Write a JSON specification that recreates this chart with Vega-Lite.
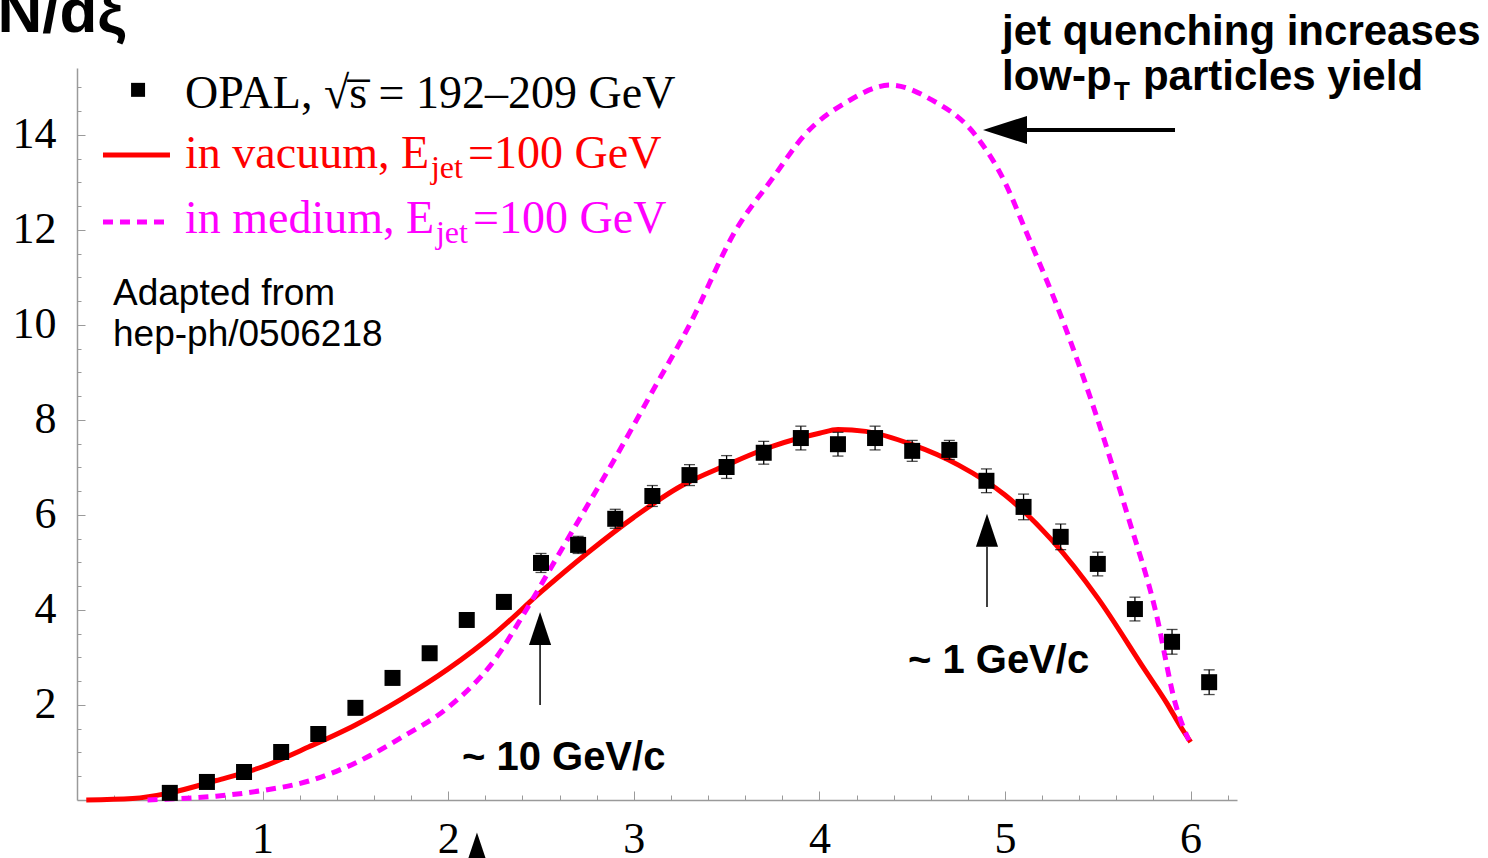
{
  "$schema": "https://vega.github.io/schema/vega-lite/v6.json",
  "width": 1160,
  "height": 732,
  "autosize": {"type": "none"},
  "padding": {"left": 77, "top": 68, "right": 251, "bottom": 58},
  "background": "white",
  "config": {"view": {"stroke": null}},
  "datasets": {
    "pts": [
      {"x": 0.5, "y": 0.15, "lo": 0.10, "hi": 0.20},
      {"x": 0.7, "y": 0.38, "lo": 0.32, "hi": 0.44},
      {"x": 0.9, "y": 0.59, "lo": 0.52, "hi": 0.66},
      {"x": 1.1, "y": 1.01, "lo": 0.93, "hi": 1.09},
      {"x": 1.3, "y": 1.39, "lo": 1.30, "hi": 1.48},
      {"x": 1.5, "y": 1.94, "lo": 1.84, "hi": 2.04},
      {"x": 1.7, "y": 2.57, "lo": 2.46, "hi": 2.68},
      {"x": 1.9, "y": 3.09, "lo": 2.97, "hi": 3.21},
      {"x": 2.1, "y": 3.79, "lo": 3.66, "hi": 3.92},
      {"x": 2.3, "y": 4.17, "lo": 4.02, "hi": 4.32},
      {"x": 2.5, "y": 4.99, "lo": 4.79, "hi": 5.19},
      {"x": 2.7, "y": 5.37, "lo": 5.19, "hi": 5.55},
      {"x": 2.9, "y": 5.92, "lo": 5.72, "hi": 6.12},
      {"x": 3.1, "y": 6.40, "lo": 6.18, "hi": 6.62},
      {"x": 3.3, "y": 6.84, "lo": 6.62, "hi": 7.06},
      {"x": 3.5, "y": 7.01, "lo": 6.77, "hi": 7.25},
      {"x": 3.7, "y": 7.31, "lo": 7.07, "hi": 7.55},
      {"x": 3.9, "y": 7.62, "lo": 7.37, "hi": 7.87},
      {"x": 4.1, "y": 7.49, "lo": 7.24, "hi": 7.74},
      {"x": 4.3, "y": 7.62, "lo": 7.37, "hi": 7.87},
      {"x": 4.5, "y": 7.35, "lo": 7.13, "hi": 7.57},
      {"x": 4.7, "y": 7.37, "lo": 7.17, "hi": 7.57},
      {"x": 4.9, "y": 6.72, "lo": 6.47, "hi": 6.97},
      {"x": 5.1, "y": 6.17, "lo": 5.90, "hi": 6.44},
      {"x": 5.3, "y": 5.54, "lo": 5.27, "hi": 5.81},
      {"x": 5.5, "y": 4.97, "lo": 4.72, "hi": 5.22},
      {"x": 5.7, "y": 4.02, "lo": 3.77, "hi": 4.27},
      {"x": 5.9, "y": 3.33, "lo": 3.07, "hi": 3.59},
      {"x": 6.1, "y": 2.48, "lo": 2.22, "hi": 2.74}
    ],
    "vac": [
      {"x": 0.05, "y": 0.0},
      {"x": 0.3, "y": 0.03},
      {"x": 0.5, "y": 0.15},
      {"x": 0.75, "y": 0.41},
      {"x": 1.0, "y": 0.70},
      {"x": 1.25, "y": 1.12},
      {"x": 1.5, "y": 1.58},
      {"x": 1.75, "y": 2.13},
      {"x": 2.0, "y": 2.76},
      {"x": 2.25, "y": 3.50},
      {"x": 2.5, "y": 4.38},
      {"x": 2.75, "y": 5.20},
      {"x": 3.0, "y": 5.95},
      {"x": 3.25, "y": 6.60},
      {"x": 3.5, "y": 7.05},
      {"x": 3.75, "y": 7.45},
      {"x": 4.0, "y": 7.72},
      {"x": 4.1, "y": 7.80},
      {"x": 4.25, "y": 7.76},
      {"x": 4.5, "y": 7.48},
      {"x": 4.75, "y": 7.05},
      {"x": 5.0, "y": 6.42},
      {"x": 5.25, "y": 5.48},
      {"x": 5.5, "y": 4.25},
      {"x": 5.75, "y": 2.76},
      {"x": 5.87, "y": 2.05},
      {"x": 5.95, "y": 1.52},
      {"x": 6.0, "y": 1.22}
    ],
    "med": [
      {"x": 0.38, "y": 0.0},
      {"x": 0.5, "y": 0.02},
      {"x": 0.75, "y": 0.08},
      {"x": 1.0, "y": 0.20},
      {"x": 1.25, "y": 0.40},
      {"x": 1.5, "y": 0.78},
      {"x": 1.75, "y": 1.32},
      {"x": 2.0, "y": 1.95},
      {"x": 2.25, "y": 2.95},
      {"x": 2.42, "y": 4.0},
      {"x": 2.6, "y": 5.2},
      {"x": 2.72, "y": 6.0},
      {"x": 2.9, "y": 7.2},
      {"x": 3.1, "y": 8.6},
      {"x": 3.3, "y": 10.0},
      {"x": 3.55, "y": 12.0},
      {"x": 3.75, "y": 13.1},
      {"x": 3.92, "y": 14.0},
      {"x": 4.15, "y": 14.7},
      {"x": 4.38, "y": 15.05},
      {"x": 4.6, "y": 14.75},
      {"x": 4.84, "y": 14.0},
      {"x": 5.0, "y": 13.0},
      {"x": 5.11, "y": 12.0},
      {"x": 5.32, "y": 10.0},
      {"x": 5.5, "y": 8.0},
      {"x": 5.66, "y": 6.0},
      {"x": 5.81, "y": 4.0},
      {"x": 5.92, "y": 2.0},
      {"x": 5.99, "y": 1.26}
    ]
  },
  "encoding": {
    "x": {
      "field": "x", "type": "quantitative",
      "scale": {"domain": [0, 6.25], "nice": false, "zero": false},
      "axis": {
        "title": null, "grid": false,
        "values": [0.2, 0.4, 0.6, 0.8, 1, 1.2, 1.4, 1.6, 1.8, 2, 2.2, 2.4, 2.6, 2.8, 3, 3.2, 3.4, 3.6, 3.8, 4, 4.2, 4.4, 4.6, 4.8, 5, 5.2, 5.4, 5.6, 5.8, 6, 6.2],
        "labelExpr": "datum.value % 1 === 0 ? format(datum.value, 'd') : ''",
        "tickSize": {"condition": {"test": "datum.value % 1 === 0", "value": -9}, "value": -5},
        "labelPadding": 26,
        "labelOverlap": false, "labelFlush": false,
        "labelFont": "Liberation Serif", "labelFontSize": 44, "labelColor": "black",
        "domainColor": "#9a9a9a", "domainWidth": 1.5, "tickColor": "#9a9a9a", "tickWidth": 1
      }
    },
    "y": {
      "field": "y", "type": "quantitative",
      "scale": {"domain": [0, 15.41], "nice": false, "zero": false},
      "axis": {
        "title": null, "grid": false,
        "values": [0.5, 1, 1.5, 2, 2.5, 3, 3.5, 4, 4.5, 5, 5.5, 6, 6.5, 7, 7.5, 8, 8.5, 9, 9.5, 10, 10.5, 11, 11.5, 12, 12.5, 13, 13.5, 14, 14.5, 15],
        "labelExpr": "datum.value % 2 === 0 ? format(datum.value, 'd') : ''",
        "tickSize": {"condition": {"test": "datum.value % 2 === 0", "value": -8}, "value": -4},
        "labelPadding": 29,
        "labelOverlap": false, "labelFlush": false,
        "labelFont": "Liberation Serif", "labelFontSize": 44, "labelColor": "black",
        "domainColor": "#9a9a9a", "domainWidth": 1.5, "tickColor": "#9a9a9a", "tickWidth": 1
      }
    }
  },
  "layer": [
    {"data": {"name": "vac"}, "mark": {"type": "line", "color": "#ff0000", "strokeWidth": 5, "interpolate": "monotone"}},
    {"data": {"name": "med"}, "mark": {"type": "line", "color": "#ff00ff", "strokeWidth": 5, "strokeDash": [10, 7], "interpolate": "monotone"}},
    {"data": {"name": "pts"}, "mark": {"type": "rule", "color": "black", "strokeWidth": 1.3},
     "encoding": {"y": {"field": "lo", "type": "quantitative"}, "y2": {"field": "hi"}}},
    {"data": {"name": "pts"}, "mark": {"type": "tick", "orient": "horizontal", "color": "black", "size": 11, "thickness": 1.3},
     "encoding": {"y": {"field": "lo", "type": "quantitative"}}},
    {"data": {"name": "pts"}, "mark": {"type": "tick", "orient": "horizontal", "color": "black", "size": 11, "thickness": 1.3},
     "encoding": {"y": {"field": "hi", "type": "quantitative"}}},
    {"data": {"name": "pts"}, "mark": {"type": "point", "shape": "square", "filled": true, "color": "black", "opacity": 1, "size": 256}},
    {"data": {"values": [{"x": 0.329, "y": 14.95}]}, "mark": {"type": "point", "shape": "square", "filled": true, "color": "black", "opacity": 1, "size": 196}},
    {"data": {"values": [{"x": 0.14, "y": 13.58}, {"x": 0.501, "y": 13.58}]}, "mark": {"type": "line", "color": "#ff0000", "strokeWidth": 5}},
    {"data": {"values": [{"x": 0.14, "y": 12.17}, {"x": 0.49, "y": 12.17}]}, "mark": {"type": "line", "color": "#ff00ff", "strokeWidth": 5, "strokeDash": [10, 7]}},
    {"data": {"values": [{"x": 0.582, "y": 14.57, "t": "OPAL, √s̅ = 192–209 GeV"}]},
     "mark": {"type": "text", "align": "left", "baseline": "alphabetic", "font": "Liberation Serif", "fontSize": 46, "color": "black"},
     "encoding": {"text": {"field": "t"}}},
    {"data": {"values": [{"x": 0.582, "y": 13.31, "t": "in vacuum, E"}, {"x": 2.107, "y": 13.31, "t": "=100 GeV"}]},
     "mark": {"type": "text", "align": "left", "baseline": "alphabetic", "font": "Liberation Serif", "fontSize": 46, "color": "#ff0000"},
     "encoding": {"text": {"field": "t"}}},
    {"data": {"values": [{"x": 1.907, "y": 13.09, "t": "jet"}]},
     "mark": {"type": "text", "align": "left", "baseline": "alphabetic", "font": "Liberation Serif", "fontSize": 32, "color": "#ff0000"},
     "encoding": {"text": {"field": "t"}}},
    {"data": {"values": [{"x": 0.582, "y": 11.94, "t": "in medium, E"}, {"x": 2.134, "y": 11.94, "t": "=100 GeV"}]},
     "mark": {"type": "text", "align": "left", "baseline": "alphabetic", "font": "Liberation Serif", "fontSize": 46, "color": "#ff00ff"},
     "encoding": {"text": {"field": "t"}}},
    {"data": {"values": [{"x": 1.934, "y": 11.73, "t": "jet"}]},
     "mark": {"type": "text", "align": "left", "baseline": "alphabetic", "font": "Liberation Serif", "fontSize": 32, "color": "#ff00ff"},
     "encoding": {"text": {"field": "t"}}},
    {"data": {"values": [{"x": 4.984, "y": 15.89, "t": "jet quenching increases"}, {"x": 4.984, "y": 14.95, "t": "low-p"}, {"x": 5.743, "y": 14.95, "t": "particles yield"}]},
     "mark": {"type": "text", "align": "left", "baseline": "alphabetic", "font": "Liberation Sans", "fontWeight": "bold", "fontSize": 42, "color": "black"},
     "encoding": {"text": {"field": "t"}}},
    {"data": {"values": [{"x": 5.587, "y": 14.74, "t": "T"}]},
     "mark": {"type": "text", "align": "left", "baseline": "alphabetic", "font": "Liberation Sans", "fontWeight": "bold", "fontSize": 26, "color": "black"},
     "encoding": {"text": {"field": "t"}}},
    {"data": {"values": [{"x": 2.074, "y": 0.63, "t": "~ 10 GeV/c"}, {"x": 4.477, "y": 2.67, "t": "~ 1 GeV/c"}]},
     "mark": {"type": "text", "align": "left", "baseline": "alphabetic", "font": "Liberation Sans", "fontWeight": "bold", "fontSize": 40, "color": "black"},
     "encoding": {"text": {"field": "t"}}},
    {"data": {"values": [{"x": 0.194, "y": 10.42, "t": "Adapted from"}, {"x": 0.194, "y": 9.56, "t": "hep-ph/0506218"}]},
     "mark": {"type": "text", "align": "left", "baseline": "alphabetic", "font": "Liberation Sans", "fontSize": 37, "color": "black"},
     "encoding": {"text": {"field": "t"}}},
    {"data": {"values": [{"x": 0.259, "y": 16.17, "t": "dN/dξ"}]},
     "mark": {"type": "text", "align": "right", "baseline": "alphabetic", "font": "Liberation Sans", "fontWeight": "bold", "fontSize": 62, "color": "black"},
     "encoding": {"text": {"field": "t"}}},
    {"data": {"values": [{"x": 5.08, "x2": 5.916, "y": 14.105}]},
     "mark": {"type": "rule", "color": "black", "strokeWidth": 4},
     "encoding": {"x2": {"field": "x2"}}},
    {"data": {"values": [{"x": 2.495, "y": 2.0, "y2": 3.3}, {"x": 4.903, "y": 4.063, "y2": 5.33}]},
     "mark": {"type": "rule", "color": "black", "strokeWidth": 1.5},
     "encoding": {"y2": {"field": "y2"}}},
    {"data": {"values": [{"x": 5.0, "y": 14.105}]},
     "mark": {"type": "point", "shape": "M-1,0L1,-0.64L1,0.64Z", "filled": true, "color": "black", "opacity": 1, "size": 1936}},
    {"data": {"values": [{"x": 2.495, "y": 3.61}, {"x": 4.903, "y": 5.68}, {"x": 2.155, "y": -1.03}]},
     "mark": {"type": "point", "shape": "M0,-1L0.67,1L-0.67,1Z", "filled": true, "color": "black", "opacity": 1, "size": 1089}}
  ]
}
